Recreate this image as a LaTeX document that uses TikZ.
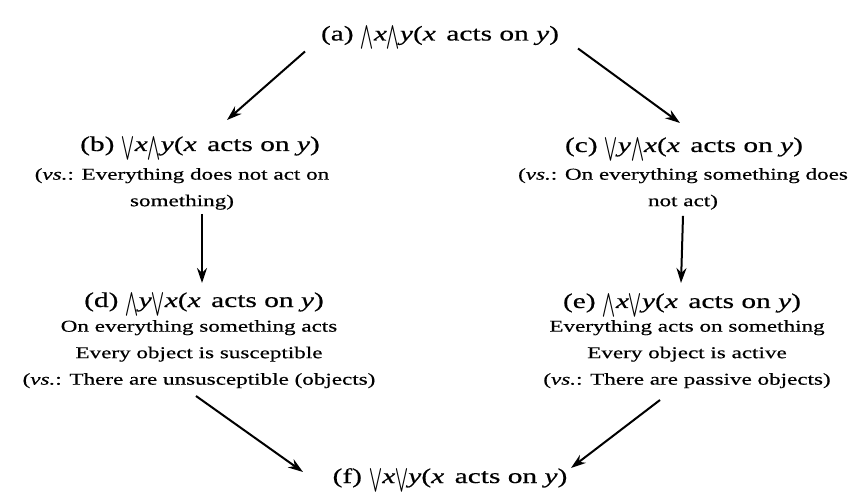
\documentclass[tikz,border=0pt]{standalone}
\usepackage{amsmath}
\usepackage{graphicx}
\usepackage{fontspec}
\setmainfont{Liberation Serif}[FakeStretch=1.4,FakeBold=0.5]
\usetikzlibrary{arrows.meta,calc}

% quantifiers, written as tall thin wedge / vee
\newcommand{\Qall}[1]{\raisebox{-0.3ex}{\scalebox{0.75}[1.15]{$\bigwedge$}}\textit{#1}}
\newcommand{\Qex}[1]{\raisebox{-0.3ex}{\scalebox{0.75}[1.15]{$\bigvee$}}\textit{#1}}
\newcommand{\acts}{(\textit{x}\enspace acts on \textit{y})}

\begin{document}
\begin{tikzpicture}[
  x=1pt,y=1pt,
  >={Stealth[length=15pt,width=10pt]},
  main/.style={font=\fontsize{21}{25}\selectfont,inner sep=0pt,anchor=base},
  note/.style={font=\fontsize{16.5}{26.5}\selectfont,inner sep=0pt,align=center,anchor=north},
  imp/.style={->,line width=2pt}
]
\useasboundingbox (0,0) rectangle (861,-502);

% --- formulas ---
\node[main] (a) at (440,-40.5) {(a) \Qall{x}\Qall{y}\acts};
\node[main] (b) at (200,-151) {(b) \Qex{x}\Qall{y}\acts};
\node[main] (c) at (684,-152) {(c) \Qex{y}\Qall{x}\acts};
\node[main] (d) at (204,-307) {(d) \Qall{y}\Qex{x}\acts};
\node[main] (e) at (682,-308) {(e) \Qall{x}\Qex{y}\acts};
\node[main] (f) at (450,-483) {(f) \Qex{x}\Qex{y}\acts};

% --- readings ---
\node[note] (bn) at (182,-168) {(\textit{vs.}: Everything does not act on\\something)};
\node[note] (cn) at (683,-168) {(\textit{vs.}: On everything something does\\not act)};
\node[note] (dn) at (199,-320) {On everything something acts\\Every object is susceptible\\(\textit{vs.}: There are unsusceptible (objects)};
\node[note] (en) at (687,-320) {Everything acts on something\\Every object is active\\(\textit{vs.}: There are passive objects)};

% --- implications ---
\draw[imp] ([shift={(-135,-11)}]a.base) -- ([shift={(27,31)}]b.base);
\draw[imp] ([shift={(138,-8)}]a.base) -- ([shift={(-4,29)}]c.base);
\draw[imp] ($(bn.south -| d.base)+(-2,-4)$) -- ([shift={(-2,24)}]d.base);
\draw[imp] ($(cn.south -| e.base)+(1,-6)$) -- ([shift={(-1,25)}]e.base);
\draw[imp] ([shift={(-3,-76)}]dn.north) -- ([shift={(-147,11)}]f.base);
\draw[imp] ([shift={(-27,-80)}]en.north) -- ([shift={(121,15)}]f.base);

\end{tikzpicture}
\end{document}
